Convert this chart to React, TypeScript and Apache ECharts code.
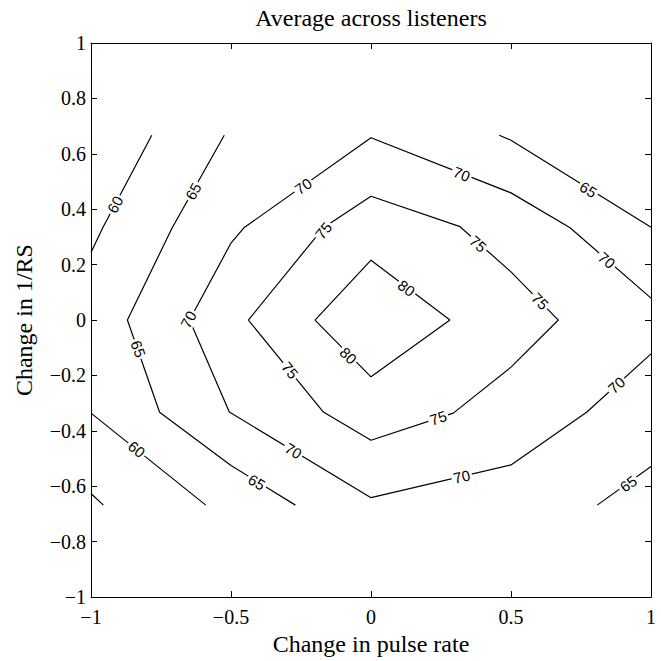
import React, { useEffect, useRef } from "react";
import * as echarts from "echarts";

// Tick values
const xTickValues = [-1, -0.5, 0, 0.5, 1];
const yTickValues = [-1, -0.8, -0.6, -0.4, -0.2, 0, 0.2, 0.4, 0.6, 0.8, 1];

// Contour polylines (x = change in pulse rate, y = change in 1/RS)
const line55 = [[-1, -0.626], [-0.956, -0.668]];
const line60Upper = [[-1, 0.244], [-0.958, 0.333], [-0.783, 0.667]];
const line60Lower = [[-1, -0.336], [-0.59, -0.668]];
const line65Left = [[-0.524, 0.667], [-0.71, 0.333], [-0.87, 0], [-0.755, -0.333], [-0.5, -0.525], [-0.27, -0.668]];
const line65UpperRight = [[0.458, 0.667], [0.5, 0.649], [1, 0.335]];
const line65LowerRight = [[0.808, -0.668], [1, -0.529]];
const line70 = [[1, 0.079], [0.711, 0.333], [0.5, 0.459], [0, 0.658], [-0.454, 0.333], [-0.5, 0.278], [-0.648, 0], [-0.506, -0.332], [0, -0.641], [0.5, -0.523], [0.77, -0.333], [1, -0.122]];
const line75 = [[-0.438, 0], [-0.17, 0.333], [0, 0.447], [0.318, 0.337], [0.5, 0.174], [0.669, 0], [0.5, -0.17], [0.294, -0.336], [0, -0.434], [-0.17, -0.332], [-0.438, 0]];
const line80 = [[-0.2, 0], [0, 0.216], [0.282, 0], [0, -0.205], [-0.2, 0]];

const contourLevels = [55, 60, 60, 65, 65, 65, 70, 75, 80];
const contourLines = [line55, line60Upper, line60Lower, line65Left, line65UpperRight, line65LowerRight, line70, line75, line80];

// Contour labels: [x, y, level]
const contourLabels = [
  [-0.914, 0.417, 60],
  [-0.635, 0.465, 65],
  [-0.242, 0.483, 70],
  [-0.652, 0.002, 70],
  [-0.17, 0.323, 75],
  [0.324, 0.527, 70],
  [0.776, 0.471, 65],
  [0.383, 0.275, 75],
  [0.604, 0.068, 75],
  [0.842, 0.216, 70],
  [0.127, 0.115, 80],
  [-0.081, -0.128, 80],
  [-0.831, -0.104, 65],
  [-0.289, -0.181, 75],
  [-0.837, -0.466, 60],
  [-0.277, -0.472, 70],
  [-0.408, -0.585, 65],
  [0.24, -0.353, 75],
  [0.324, -0.565, 70],
  [0.877, -0.235, 70],
  [0.919, -0.591, 65],
];

const titleText = "Average across listeners";
const xName = "Change in pulse rate";
const yName = "Change in 1/RS";

const SERIF = '"Liberation Serif", "Times New Roman", serif';
const SANS = '"Liberation Sans", Arial, sans-serif';

function fmt(v: number): string {
  const r = Math.round(v * 10) / 10;
  if (r === 0) return "0";
  return (r < 0 ? "\u2212" : "") + String(Math.abs(r));
}

function distSeg(p: number[], a: number[], b: number[]) {
  const dx = b[0] - a[0];
  const dy = b[1] - a[1];
  const l2 = dx * dx + dy * dy;
  let t = l2 ? ((p[0] - a[0]) * dx + (p[1] - a[1]) * dy) / l2 : 0;
  t = Math.max(0, Math.min(1, t));
  const qx = a[0] + t * dx - p[0];
  const qy = a[1] + t * dy - p[1];
  return Math.sqrt(qx * qx + qy * qy);
}

export default function App() {
  const ref = useRef<HTMLDivElement>(null);

  useEffect(() => {
    if (!ref.current) return;
    const chart = echarts.init(ref.current, undefined, { renderer: "svg" });

    const axisCommon = {
      type: "value" as const,
      min: -1,
      max: 1,
      splitLine: { show: false },
      axisLine: { show: true, onZero: false, lineStyle: { color: "#000", width: 1 } },
      axisTick: { show: true, inside: true, length: 6, lineStyle: { color: "#000", width: 1 } },
    };

    const lineSeries = contourLines.map((pts, i) => ({
      type: "line",
      name: "c" + contourLevels[i] + "_" + i,
      data: pts,
      showSymbol: false,
      symbol: "none",
      smooth: false,
      silent: true,
      lineStyle: { color: "#000", width: 1.2 },
      xAxisIndex: 0,
      yAxisIndex: 0,
      z: 2,
    }));

    const labelSeries = {
      type: "custom",
      coordinateSystem: "cartesian2d",
      xAxisIndex: 0,
      yAxisIndex: 0,
      silent: true,
      z: 5,
      data: contourLabels,
      renderItem: (params: any, api: any) => {
        const x = api.value(0);
        const y = api.value(1);
        const lv = api.value(2);
        const p = api.coord([x, y]);
        let best: number[][] | null = null;
        let bestD = Infinity;
        contourLines.forEach((pts, ci) => {
          if (contourLevels[ci] !== lv) return;
          for (let i = 0; i < pts.length - 1; i++) {
            const a = api.coord(pts[i]);
            const b = api.coord(pts[i + 1]);
            const d = distSeg(p, a, b);
            if (d < bestD) {
              bestD = d;
              best = [a, b];
            }
          }
        });
        let ang = 0;
        if (best) {
          const bb = best as number[][];
          ang = Math.atan2(bb[1][1] - bb[0][1], bb[1][0] - bb[0][0]);
          if (ang > Math.PI / 2) ang -= Math.PI;
          if (ang <= -Math.PI / 2) ang += Math.PI;
        }
        return {
          type: "text",
          x: p[0],
          y: p[1],
          rotation: -ang,
          style: {
            text: String(lv),
            fill: "#000",
            font: "15px " + SANS,
            align: "center",
            verticalAlign: "middle",
            backgroundColor: "#fff",
            padding: [0, 2],
          },
        };
      },
    };

    chart.setOption({
      animation: false,
      backgroundColor: "#fff",
      grid: { left: 91, top: 43, width: 560, height: 562, containLabel: false },
      graphic: [
        {
          type: "text",
          x: 371,
          y: 6,
          style: {
            text: titleText,
            fill: "#000",
            font: "24px " + SERIF,
            align: "center",
            verticalAlign: "top",
          },
        },
      ],
      xAxis: [
        {
          ...axisCommon,
          position: "bottom",
          interval: 0.5,
          axisLabel: {
            show: true,
            color: "#000",
            fontFamily: SERIF,
            fontSize: 20,
            margin: 10,
            formatter: (v: number) => fmt(v),
          },
          name: xName,
          nameLocation: "middle",
          nameGap: 30,
          nameTextStyle: { color: "#000", fontFamily: SERIF, fontSize: 24 },
        },
        {
          ...axisCommon,
          position: "top",
          interval: 0.5,
          axisLabel: { show: false },
        },
      ],
      yAxis: [
        {
          ...axisCommon,
          position: "left",
          interval: 0.2,
          axisLabel: {
            show: true,
            color: "#000",
            fontFamily: SERIF,
            fontSize: 20,
            margin: 5,
            formatter: (v: number) => fmt(v),
          },
          name: yName,
          nameLocation: "middle",
          nameGap: 55,
          nameTextStyle: { color: "#000", fontFamily: SERIF, fontSize: 24 },
        },
        {
          ...axisCommon,
          position: "right",
          interval: 0.2,
          axisLabel: { show: false },
        },
      ],
      series: [...lineSeries, labelSeries],
    });

    return () => {
      chart.dispose();
    };
  }, []);

  return (
    <div
      ref={ref}
      style={{ position: "absolute", left: 0, top: 0, width: 661, height: 661 }}
    />
  );
}
